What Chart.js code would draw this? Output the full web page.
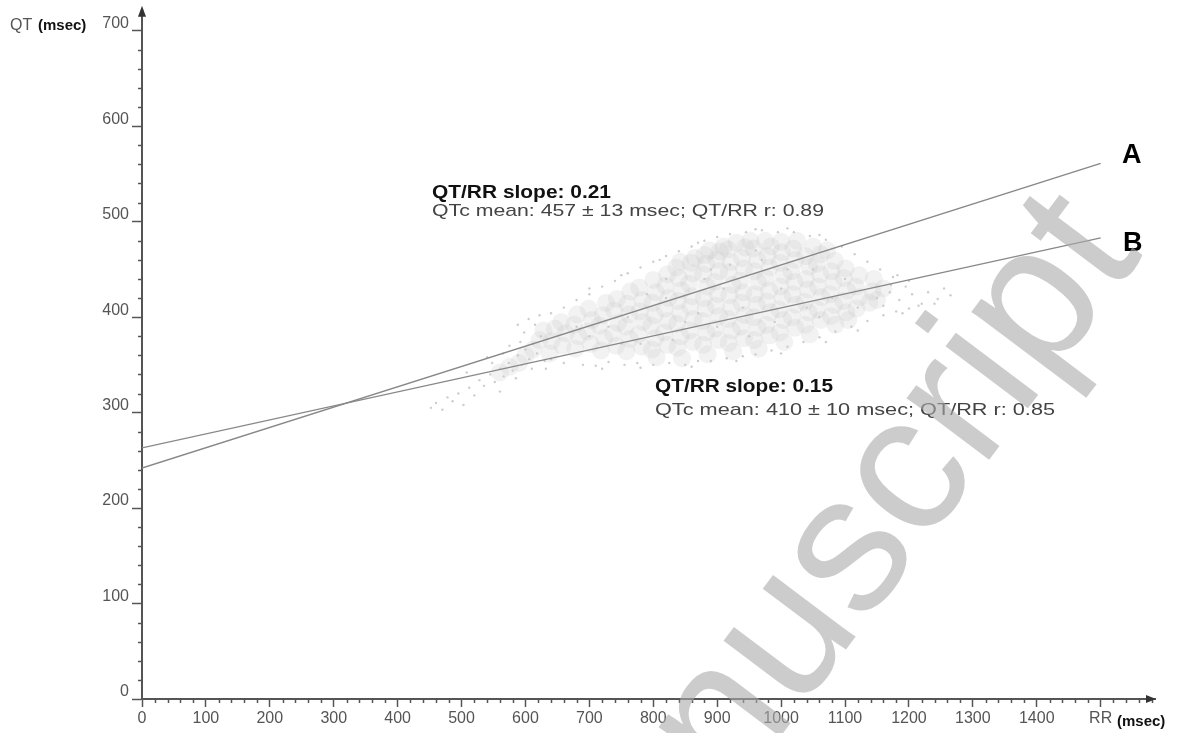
<!DOCTYPE html>
<html>
<head>
<meta charset="utf-8">
<script src="https://cdn.jsdelivr.net/npm/chart.js@4.4.0/dist/chart.umd.min.js"></script>
<style>
  html, body { margin: 0; padding: 0; background: #fff; }
  #qtChart { display: block; }
</style>
</head>
<body>
<canvas id="qtChart" width="1178" height="733"></canvas>
<script>
// QT/RR regression lines, read at RR = 0 and RR = 1500
const lineRR = [0, 1500];
const lineA_QT = [242, 561];
const lineB_QT = [263, 483];

// labelled ticks
const xTickLabels = [0, 100, 200, 300, 400, 500, 600, 700, 800, 900, 1000, 1100, 1200, 1300, 1400];
const yTickLabels = [0, 100, 200, 300, 400, 500, 600, 700];

// dense part of the beat cloud [RR, QT]
const cloudCore = [
  [641,375],[646,388],[638,362],
  [658,370],[663,383],[656,395],
  [678,367],[683,380],[676,392],[681,403],
  [702,372],[697,385],[704,397],[699,409],
  [718,365],[723,378],[716,391],[721,402],[726,415],
  [742,370],[737,383],[745,394],[739,407],[743,419],
  [758,364],[763,377],[757,390],[762,403],[759,414],[764,427],
  [782,369],[777,382],[784,395],[779,406],[783,418],[778,431],
  [798,366],[803,378],[797,391],[802,402],[799,415],[804,426],[800,439],
  [822,371],[817,384],[823,396],[818,409],[824,420],[819,433],[822,445],
  [838,368],[843,380],[837,393],[842,404],[839,417],[844,428],[840,441],[836,452],
  [862,374],[857,386],[863,398],[858,411],[861,422],[856,435],[862,446],[859,457],
  [878,371],[883,384],[877,396],[882,409],[879,420],[884,432],[878,445],[883,456],[880,465],
  [902,376],[897,388],[903,401],[898,412],[901,424],[896,437],[903,448],[899,460],[904,469],
  [918,373],[923,386],[917,398],[922,410],[919,423],[924,434],[918,447],[921,458],[917,471],
  [942,378],[937,390],[943,402],[938,415],[941,426],[936,438],[942,451],[939,462],[944,473],
  [958,376],[963,389],[957,400],[962,413],[959,424],[964,437],[958,448],[963,460],[957,472],
  [982,381],[977,392],[983,405],[978,416],[981,428],[976,441],[982,452],[979,464],[984,474],
  [998,384],[1003,397],[997,408],[1002,421],[999,432],[1004,444],[998,457],[1001,468],
  [1022,389],[1017,400],[1023,413],[1018,424],[1021,437],[1016,448],[1022,460],[1019,472],
  [1038,392],[1043,405],[1037,416],[1042,429],[1039,440],[1044,453],[1038,464],
  [1062,397],[1057,408],[1063,421],[1058,432],[1061,445],[1056,456],[1062,466],
  [1078,401],[1083,413],[1077,424],[1082,437],[1079,448],[1084,459],
  [1102,405],[1097,417],[1103,428],[1098,441],[1101,451],
  [1118,409],[1123,421],[1117,432],[1122,444],
  [1138,415],[1143,427],
  [805,358],[845,357],[885,361],[925,364],[965,367],
  [842,458],[865,462],[888,470],[910,474],[930,478],[952,480],[975,480],[1000,479],
  [1025,480],[1050,474],[1072,470],
  [1005,374],[1045,382],[1085,392],[1105,397],[1150,418],[1160,430],[1145,440],
  [612,366],[622,376],[628,386],[600,360],[590,352],[575,348],[560,342]
];

// scattered single beats around the edges [RR, QT]
const cloudSparse = [
  [452,305],[460,310],[470,303],[478,316],[486,312],[495,320],[503,308],[512,326],
  [520,318],[528,334],[535,328],[545,340],[552,332],[560,346],[566,338],[574,352],
  [580,344],[588,360],[594,350],[600,366],[606,356],[612,372],[618,362],[624,380],
  [630,354],[508,342],[540,358],[575,370],[598,384],[615,392],[560,322],[585,336],
  [548,352],[565,362],[592,374],[605,398],[622,402],[632,346],[610,346],[588,392],
  [640,356],[660,352],[690,350],[710,349],[730,353],[755,350],[775,352],[800,350],
  [825,352],[850,350],[870,354],[890,354],[915,357],[940,359],[960,361],[985,365],
  [1010,369],[1035,374],[1060,379],[1085,385],[1110,390],[1135,396],[1160,402],
  [1180,406],[1200,409],[1220,414],[1245,419],[1265,423],
  [720,346],[780,347],[860,348],[930,354],[1000,362],[1070,374],[1120,386],
  [640,404],[660,410],[680,418],[700,424],[720,432],[740,438],[760,446],[780,452],
  [800,458],[820,464],[840,469],[860,474],[880,480],[900,484],[920,487],[945,489],
  [970,491],[995,489],[1020,489],[1045,485],[1070,481],[1095,474],[1115,466],
  [1135,458],[1155,450],[1175,442],[1195,432],
  [700,430],[750,444],[810,460],[870,478],[960,492],[1010,493],[1060,486],
  [1150,420],[1160,412],[1170,426],[1185,418],[1190,404],[1205,424],[1215,412],
  [1230,426],[1240,414],[1255,430],[1172,434],[1182,444],[1200,438],
  [700,380],[760,400],[820,420],[880,440],[940,410],[1000,430],[1050,450],[900,390],
  [970,460],[1040,410],[780,372],[850,395],[920,455],[990,395],[1080,420],
  [730,390],[790,424],[830,376],[870,404],[910,430],[950,380],[1010,450],[1060,400],
  [1100,440],[960,470],[890,450],[820,440],[750,372],[680,390],[1120,410]
];

const FONT = '"Liberation Sans", Arial, sans-serif';

function toPoints(xs, ys) {
    return xs.map((x, i) => ({ x: x, y: ys[i] }));
}

function pairsToPoints(pairs) {
    return pairs.map(p => ({ x: p[0], y: p[1] }));
}

// draws text squeezed/stretched to a given width (source figure is a little wide)
function fitText(ctx, text, x, y, font, color, width) {
    ctx.save();
    ctx.font = font;
    const w = ctx.measureText(text).width;
    ctx.translate(x, y);
    ctx.scale(width / w, 1);
    ctx.fillStyle = color;
    ctx.textAlign = 'left';
    ctx.textBaseline = 'alphabetic';
    ctx.fillText(text, 0, 0);
    ctx.restore();
}

const decorPlugin = {
    id: 'decor',
    afterDraw(chart) {
        const ctx = chart.ctx;
        const xs = chart.scales.x;
        const ys = chart.scales.y;
        const area = chart.chartArea;
        const yTop = ys.getPixelForValue(725);

        ctx.save();
        ctx.strokeStyle = '#555';

        // y axis runs on above the last tick up to the arrow
        ctx.lineWidth = 2;
        ctx.beginPath();
        ctx.moveTo(area.left, area.top + 1);
        ctx.lineTo(area.left, yTop + 6);
        ctx.stroke();

        // minor ticks every 20 msec
        ctx.lineWidth = 1.5;
        ctx.beginPath();
        for (let v = 20; v <= 1580; v += 20) {
            if (v % 100 === 0) continue;
            const px = Math.round(xs.getPixelForValue(v)) + 0.5;
            ctx.moveTo(px, area.bottom);
            ctx.lineTo(px, area.bottom + 4);
        }
        for (let v = 20; v < 700; v += 20) {
            if (v % 100 === 0) continue;
            const py = Math.round(ys.getPixelForValue(v)) + 0.5;
            ctx.moveTo(area.left - 4, py);
            ctx.lineTo(area.left, py);
        }
        ctx.stroke();

        // arrow heads
        ctx.fillStyle = '#333';
        ctx.beginPath();
        ctx.moveTo(area.left, yTop - 1);
        ctx.lineTo(area.left - 4, yTop + 10);
        ctx.lineTo(area.left + 4, yTop + 10);
        ctx.closePath();
        ctx.fill();
        ctx.beginPath();
        ctx.moveTo(area.right + 1, area.bottom);
        ctx.lineTo(area.right - 9, area.bottom - 4);
        ctx.lineTo(area.right - 9, area.bottom + 4);
        ctx.closePath();
        ctx.fill();
        ctx.restore();

        // axis titles
        ctx.save();
        ctx.textBaseline = 'alphabetic';
        ctx.font = '16px ' + FONT;
        ctx.fillStyle = '#555';
        ctx.fillText('QT', 10, 30);
        ctx.font = 'bold 15px ' + FONT;
        ctx.fillStyle = '#111';
        ctx.fillText('(msec)', 38, 30);
        ctx.fillText('(msec)', 1117, 726);
        ctx.restore();

        // annotations
        fitText(ctx, 'QT/RR slope: 0.21', 432, 198, 'bold 18px ' + FONT, '#111', 179);
        fitText(ctx, 'QTc mean: 457 \u00b1 13 msec; QT/RR r: 0.89', 432, 216, '17px ' + FONT, '#444', 392);
        fitText(ctx, 'QT/RR slope: 0.15', 655, 392, 'bold 18px ' + FONT, '#111', 178);
        fitText(ctx, 'QTc mean: 410 \u00b1 10 msec; QT/RR r: 0.85', 655, 415, '17px ' + FONT, '#444', 400);

        ctx.save();
        ctx.font = 'bold 27px ' + FONT;
        ctx.fillStyle = '#000';
        ctx.fillText('A', 1122, 163);
        ctx.fillText('B', 1123, 251);
        ctx.restore();

        // "Manuscript" watermark over the figure
        ctx.save();
        ctx.translate(857, 635);
        ctx.rotate(-53 * Math.PI / 180);
        ctx.font = '195px ' + FONT;
        ctx.textAlign = 'center';
        ctx.textBaseline = 'alphabetic';
        ctx.fillStyle = 'rgba(170,170,170,0.6)';
        ctx.fillText('Manuscript', 0, 0);
        ctx.restore();
    }
};

const ctx = document.getElementById('qtChart').getContext('2d');

new Chart(ctx, {
    type: 'scatter',
    data: {
        datasets: [
            {
                label: 'A',
                data: toPoints(lineRR, lineA_QT),
                showLine: true,
                borderColor: '#888',
                borderWidth: 1.4,
                pointRadius: 0
            },
            {
                label: 'B',
                data: toPoints(lineRR, lineB_QT),
                showLine: true,
                borderColor: '#888',
                borderWidth: 1.4,
                pointRadius: 0
            },
            {
                label: 'sparse',
                data: pairsToPoints(cloudSparse),
                backgroundColor: '#cdcdcd',
                borderWidth: 0,
                pointRadius: 1.2
            },
            {
                label: 'core',
                data: pairsToPoints(cloudCore),
                backgroundColor: 'rgba(190,190,190,0.2)',
                borderWidth: 0,
                pointRadius: 9
            }
        ]
    },
    options: {
        responsive: false,
        animation: false,
        layout: { padding: { top: 5, right: 23, left: 0, bottom: 0 } },
        plugins: {
            legend: { display: false },
            tooltip: { enabled: false }
        },
        scales: {
            x: {
                type: 'linear',
                min: 0,
                max: 1585,
                afterFit: function(scale) { scale.height = 34; },
                border: { display: true, color: '#555', width: 2 },
                grid: {
                    drawOnChartArea: false,
                    drawTicks: true,
                    tickLength: 8,
                    tickWidth: 1.5,
                    tickColor: '#555'
                },
                ticks: {
                    stepSize: 20,
                    autoSkip: false,
                    maxRotation: 0,
                    includeBounds: false,
                    padding: 2,
                    color: '#555',
                    font: { family: FONT, size: 16 },
                    callback: function(value) {
                        const v = Math.round(value);
                        if (xTickLabels.includes(v)) return String(v);
                        if (v === 1500) return 'RR';
                        return null;
                    }
                }
            },
            y: {
                type: 'linear',
                min: 0,
                max: 719,
                afterFit: function(scale) { scale.width = 142; },
                border: { display: true, color: '#555', width: 2 },
                grid: {
                    drawOnChartArea: false,
                    drawTicks: true,
                    tickLength: 10,
                    tickWidth: 1.5,
                    tickColor: '#555'
                },
                ticks: {
                    stepSize: 20,
                    autoSkip: false,
                    includeBounds: false,
                    padding: 3,
                    labelOffset: -7,
                    color: '#555',
                    font: { family: FONT, size: 16 },
                    callback: function(value) {
                        const v = Math.round(value);
                        return yTickLabels.includes(v) ? String(v) : null;
                    }
                }
            }
        }
    },
    plugins: [decorPlugin]
});
</script>
</body>
</html>
